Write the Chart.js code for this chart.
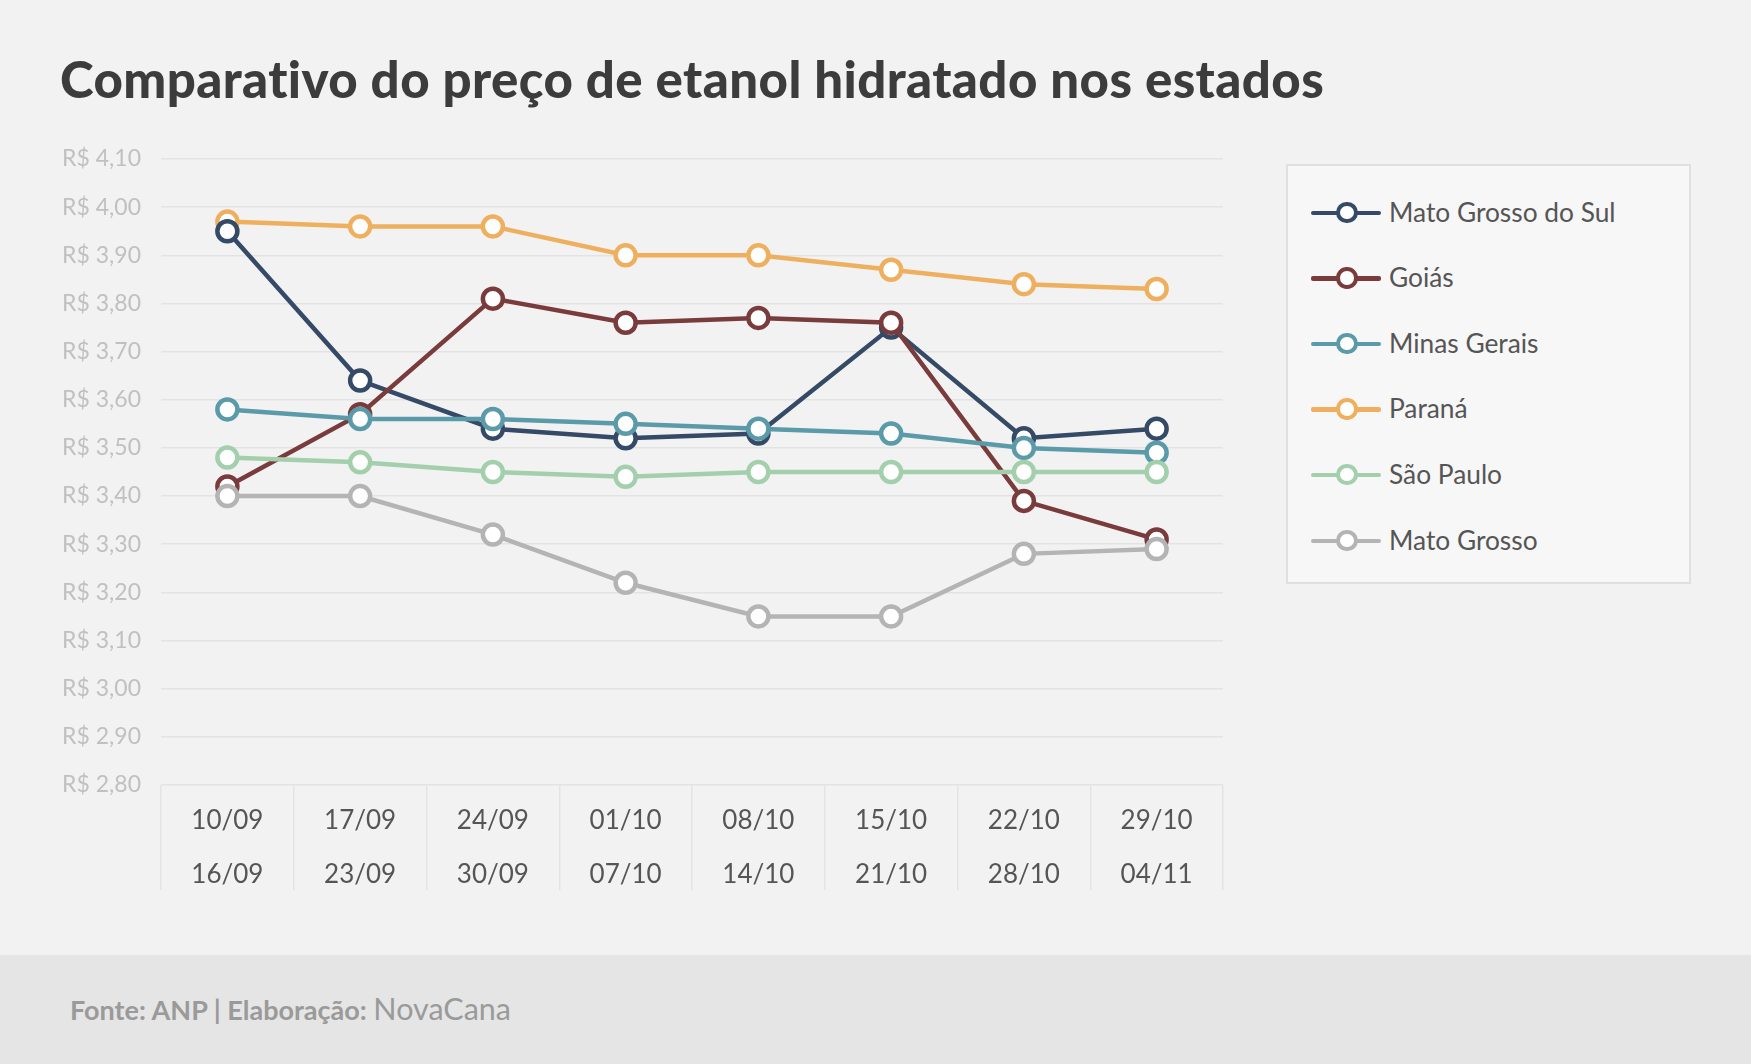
<!DOCTYPE html>
<html>
<head>
<meta charset="utf-8">
<script src="https://cdn.jsdelivr.net/npm/chart.js@4"></script>
<style>
  html, body { margin: 0; padding: 0; }
  body { width: 1751px; height: 1064px; background: #f2f2f2; position: relative; overflow: hidden; font-family: Lato, sans-serif; }
  #title { position: absolute; left: 60px; top: 48px; font-size: 51px; font-weight: 900; color: #3c3c3c; line-height: 1.2; white-space: nowrap; letter-spacing: 0.4px; }
  #chartWrap { position: absolute; left: 0; top: 120px; width: 1250px; height: 790px; }
  #legend { position: absolute; left: 1286px; top: 164px; width: 401px; height: 416px; background: #f7f7f7; border: 2px solid #e0e0e0; }
  .item { position: absolute; left: 0; height: 40px; width: 400px; }
  .item .ln { position: absolute; left: 23px; top: 18px; width: 70px; height: 4.5px; border-radius: 2px; }
  .item .pt { position: absolute; left: 48px; top: 9px; width: 13.5px; height: 13.5px; border-radius: 50%; background: #fff; border-width: 4.5px; border-style: solid; }
  .item .tx { position: absolute; left: 101px; top: 4px; font-size: 26.3px; color: #555; line-height: 1.2; white-space: nowrap; }
  #footer { position: absolute; left: 0; top: 955px; width: 1751px; height: 109px; background: #e5e5e5; }
  #footer .src { position: absolute; left: 70px; top: 35px; color: #9a9a9a; white-space: nowrap; line-height: 1.2; }
  #footer .a { font-size: 27px; font-weight: 700; }
  #footer .b { font-size: 30.5px; font-weight: 400; }
</style>
</head>
<body>
<div id="title">Comparativo do preço de etanol hidratado nos estados</div>
<div id="chartWrap"><canvas id="c" width="1250" height="790"></canvas></div>
<div id="legend"></div>
<div id="footer"><div class="src"><span class="a">Fonte: ANP | Elaboração: </span><span class="b">NovaCana</span></div></div>
<script>
// ---- data ----
const weekStart = ['10/09', '17/09', '24/09', '01/10', '08/10', '15/10', '22/10', '29/10'];
const weekEnd   = ['16/09', '23/09', '30/09', '07/10', '14/10', '21/10', '28/10', '04/11'];
const seriesNames = ['Mato Grosso do Sul', 'Goiás', 'Minas Gerais', 'Paraná', 'São Paulo', 'Mato Grosso'];
const matoGrossoDoSul = [3.95, 3.64, 3.54, 3.52, 3.53, 3.75, 3.52, 3.54];
const goias           = [3.42, 3.57, 3.81, 3.76, 3.77, 3.76, 3.39, 3.31];
const minasGerais     = [3.58, 3.56, 3.56, 3.55, 3.54, 3.53, 3.50, 3.49];
const parana          = [3.97, 3.96, 3.96, 3.90, 3.90, 3.87, 3.84, 3.83];
const saoPaulo        = [3.48, 3.47, 3.45, 3.44, 3.45, 3.45, 3.45, 3.45];
const matoGrosso      = [3.40, 3.40, 3.32, 3.22, 3.15, 3.15, 3.28, 3.29];
const yMin = 2.8, yMax = 4.1, yStep = 0.1;

// ---- styles ----
const colors = ['#344a66', '#7a3b3c', '#5b9aa8', '#eeb05e', '#a3cfac', '#b4b4b4'];
const drawOrder = [4, 3, 2, 5, 1, 0];
const seriesValues = [matoGrossoDoSul, goias, minasGerais, parana, saoPaulo, matoGrosso];

const labels = weekStart.map((s, i) => [s, weekEnd[i]]);
const datasets = seriesNames.map((name, i) => ({
  label: name,
  data: seriesValues[i],
  borderColor: colors[i],
  backgroundColor: colors[i],
  borderWidth: 4.5,
  pointRadius: 10,
  pointHoverRadius: 10,
  pointBorderWidth: 4.5,
  pointBackgroundColor: '#ffffff',
  pointBorderColor: colors[i],
  tension: 0,
  order: drawOrder[i]
}));

new Chart(document.getElementById('c'), {
  type: 'line',
  data: { labels, datasets },
  options: {
    responsive: false,
    animation: false,
    layout: { padding: { left: 0, right: 27, top: 39, bottom: 20 } },
    plugins: { legend: { display: false }, tooltip: { enabled: false } },
    scales: {
      x: {
        offset: true,
        grid: { display: true, offset: true, drawOnChartArea: false, drawTicks: true, tickLength: 105, color: '#e4e4e4', lineWidth: 1.5 },
        border: { display: false },
        ticks: { color: '#555555', font: { family: 'Lato', size: 26, lineHeight: 2.06 }, padding: -96, maxRotation: 0, autoSkip: false },
        afterFit: (s) => { s.height = 105; }
      },
      y: {
        min: yMin, max: yMax,
        grid: { color: '#e3e3e3', lineWidth: 1.5, drawTicks: false },
        border: { display: false },
        ticks: {
          stepSize: yStep, padding: 20, color: '#c0c0c0',
          font: { family: 'Lato', size: 23 },
          callback: (v) => 'R$ ' + Number(v).toFixed(2).replace('.', ',')
        },
        afterFit: (s) => { s.width = 161; }
      }
    }
  }
});

// ---- legend ----
const legend = document.getElementById('legend');
seriesNames.forEach((name, i) => {
  const it = document.createElement('div');
  it.className = 'item';
  it.style.top = (26.5 + i * 65.6) + 'px';
  it.innerHTML = '<div class="ln" style="background:' + colors[i] + '"></div>' +
    '<div class="pt" style="border-color:' + colors[i] + '"></div>' +
    '<div class="tx">' + name + '</div>';
  legend.appendChild(it);
});
</script>
</body>
</html>
